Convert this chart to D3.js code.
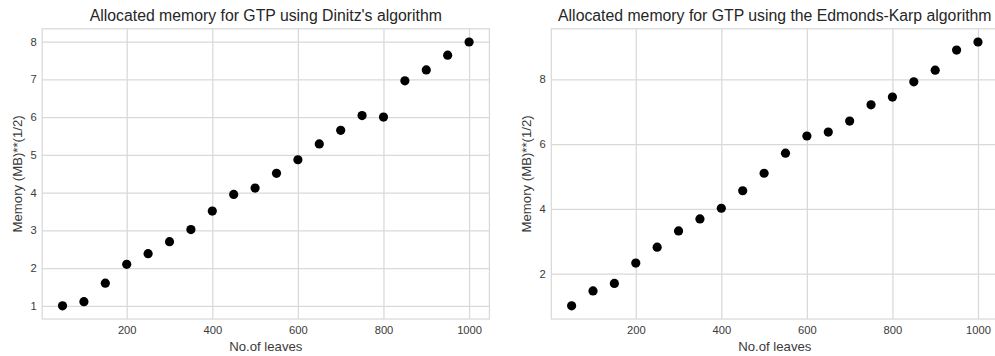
<!DOCTYPE html>
<html>
<head>
<meta charset="utf-8">
<script src="https://cdn.jsdelivr.net/npm/d3@7"></script>
<style>
  html, body { margin: 0; padding: 0; background: #fff; }
  svg { display: block; }
  text { font-family: "Liberation Sans", Arial, sans-serif; }
</style>
</head>
<body>
<svg id="chart" width="995" height="356"></svg>
<script>
// Number of leaves in the generated trees
const leaves = [50, 100, 150, 200, 250, 300, 350, 400, 450, 500,
                550, 600, 650, 700, 750, 800, 850, 900, 950, 1000];

// sqrt of allocated memory (MB), Dinitz's algorithm
const dinitzMem = [1.00, 1.11, 1.60, 2.10, 2.38, 2.70, 3.02, 3.51, 3.95, 4.12,
                   4.51, 4.87, 5.29, 5.65, 6.04, 6.00, 6.96, 7.25, 7.64, 7.99];

// sqrt of allocated memory (MB), Edmonds-Karp algorithm
const edmondsMem = [1.01, 1.47, 1.70, 2.33, 2.82, 3.32, 3.69, 4.02, 4.56, 5.10,
                    5.72, 6.25, 6.37, 6.71, 7.21, 7.45, 7.92, 8.28, 8.90, 9.15];

const xTicks = [200, 400, 600, 800, 1000];
const dinitzYTicks = [1, 2, 3, 4, 5, 6, 7, 8];
const edmondsYTicks = [2, 4, 6, 8];

const titles = ["Allocated memory for GTP using Dinitz's algorithm",
                "Allocated memory for GTP using the Edmonds-Karp algorithm"];
const xLabel = "No.of leaves";
const yLabel = "Memory (MB)**(1/2)";

const svg = d3.select("#chart");
const gridColor = "#d9d9d9";
const textColor = "#3a3a3a";

// Pad a domain by 5% on each side, like the default plot margins
function padded(vals) {
  const [lo, hi] = d3.extent(vals);
  const m = (hi - lo) * 0.05;
  return [lo - m, hi + m];
}

function panel(box, ys, yTicks, title, yLabelX) {
  const g = svg.append("g");
  const x = d3.scaleLinear().domain(padded(leaves)).range([box.left, box.right]);
  const y = d3.scaleLinear().domain(padded(ys)).range([box.bottom, box.top]);

  // frame
  g.append("rect")
    .attr("x", box.left).attr("y", box.top)
    .attr("width", box.right - box.left).attr("height", box.bottom - box.top)
    .attr("fill", "#fff").attr("stroke", gridColor).attr("stroke-width", 1.25);

  // grid via axes with full-length ticks
  const xAxis = d3.axisBottom(x).tickValues(xTicks)
    .tickSize(-(box.bottom - box.top)).tickPadding(7).tickFormat(d3.format("d"));
  const gx = g.append("g").attr("transform", `translate(0,${box.bottom})`).call(xAxis);
  gx.select(".domain").remove();
  gx.selectAll("line").attr("stroke", gridColor).attr("stroke-width", 1.25);
  gx.selectAll("text").attr("fill", textColor).attr("font-size", 11.2)
    .attr("font-family", "'Liberation Sans', Arial, sans-serif");

  const yAxis = d3.axisLeft(y).tickValues(yTicks)
    .tickSize(-(box.right - box.left)).tickPadding(5.5).tickFormat(d3.format("d"));
  const gy = g.append("g").attr("transform", `translate(${box.left},0)`).call(yAxis);
  gy.select(".domain").remove();
  gy.selectAll("line").attr("stroke", gridColor).attr("stroke-width", 1.25);
  gy.selectAll("text").attr("fill", textColor).attr("font-size", 11.2)
    .attr("font-family", "'Liberation Sans', Arial, sans-serif");

  // points
  g.append("g").selectAll("circle")
    .data(leaves.map((l, i) => [l, ys[i]]))
    .join("circle")
    .attr("cx", d => x(d[0])).attr("cy", d => y(d[1]))
    .attr("r", 4.6).attr("fill", "#000");

  // title
  g.append("text")
    .attr("x", (box.left + box.right) / 2).attr("y", 20.5)
    .attr("text-anchor", "middle").attr("font-size", 15.8).attr("fill", "#262626")
    .text(title);

  // axis labels
  g.append("text")
    .attr("x", (box.left + box.right) / 2).attr("y", 351)
    .attr("text-anchor", "middle").attr("font-size", 13.2).attr("fill", textColor)
    .text(xLabel);

  g.append("text")
    .attr("transform", `translate(${yLabelX},${(box.top + box.bottom) / 2}) rotate(-90)`)
    .attr("text-anchor", "middle").attr("font-size", 13.2).attr("fill", textColor)
    .text(yLabel);
}

panel({left: 42.2, right: 489.4, top: 28.8, bottom: 319}, dinitzMem, dinitzYTicks, titles[0], 21.5);
panel({left: 551.3, right: 998.3, top: 28.8, bottom: 319}, edmondsMem, edmondsYTicks, titles[1], 531);
</script>
</body>
</html>
